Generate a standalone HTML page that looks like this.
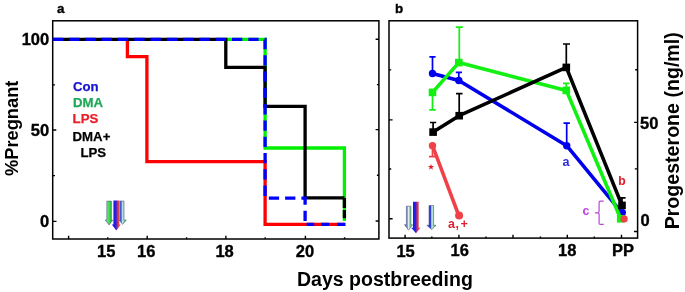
<!DOCTYPE html>
<html><head><meta charset="utf-8">
<style>
html,body{margin:0;padding:0;background:#fff;}
body{width:685px;height:292px;overflow:hidden;position:relative;}
svg{position:absolute;left:0;top:0;filter:blur(0.4px);}
text{font-family:"Liberation Sans",sans-serif;}
.b{font-weight:bold;}
.s{stroke:#000;stroke-width:0.35;}
</style></head>
<body>
<svg width="685" height="292" viewBox="0 0 685 292">
<defs>
  <linearGradient id="gBR" x1="0" x2="1" y1="0" y2="0">
    <stop offset="0" stop-color="#1818e0"/><stop offset="0.45" stop-color="#2020f0"/><stop offset="0.6" stop-color="#a03080"/><stop offset="0.75" stop-color="#e04050"/><stop offset="1" stop-color="#f06070"/>
  </linearGradient>
  <linearGradient id="gA" x1="0" x2="1" y1="0" y2="0">
    <stop offset="0" stop-color="#4060c0"/><stop offset="0.2" stop-color="#80d890"/><stop offset="0.5" stop-color="#40e050"/><stop offset="1" stop-color="#209040"/>
  </linearGradient>
  <linearGradient id="gC" x1="0" x2="1" y1="0" y2="0">
    <stop offset="0" stop-color="#1a2ae0"/><stop offset="0.42" stop-color="#3040e0"/><stop offset="0.55" stop-color="#d8f0f8"/><stop offset="0.7" stop-color="#80d8a0"/><stop offset="1" stop-color="#30a050"/>
  </linearGradient>
  <linearGradient id="gL" x1="0" x2="1" y1="0" y2="0">
    <stop offset="0" stop-color="#4050b8"/><stop offset="0.35" stop-color="#8090d8"/><stop offset="0.5" stop-color="#e0f0f0"/><stop offset="0.65" stop-color="#80d8a0"/><stop offset="1" stop-color="#40a060"/>
  </linearGradient>
<linearGradient id="gC2" x1="0" x2="1" y1="0" y2="0">
    <stop offset="0" stop-color="#2030c8"/><stop offset="0.3" stop-color="#5070e0"/><stop offset="0.5" stop-color="#c8f0f0"/><stop offset="0.7" stop-color="#60d888"/><stop offset="1" stop-color="#30a050"/>
  </linearGradient>
</defs>

<!-- ================= PANEL A ================= -->
<g fill="none" stroke="#000" stroke-width="1.5">
  <rect x="52.7" y="20.8" width="326.2" height="218.2"/>
</g>
<!-- ticks panel a -->
<g stroke="#000" stroke-width="1.4">
  <path d="M52.7 39.3h3.8M52.7 84.9h2.3M52.7 130h3.6M52.7 175.6h2.3M52.7 221.4h3.8"/>
  <path d="M378.9 39.2h-3.3M378.9 84.6h-2M378.9 129.6h-3.3M378.9 175.2h-2M378.9 221h-3.3"/>
  <path d="M68.6 239v-3.3M107.7 239v-1.8M147.2 239v-3.3M186.6 239v-1.8M225.9 239v-3.3M265.2 239v-1.8M305.4 239v-3.3M344.6 239v-1.8"/>
</g>
<!-- data panel a -->
<g fill="none" stroke-width="3.3" stroke-linejoin="miter" stroke-linecap="butt">
  <path stroke="#00f000" d="M225.8 39.4H265.1V148H344.4V221"/>
  <path stroke="#ff0000" d="M127.4 39.4V56.7H146.9V161.6H265.1V224.3H344.6"/>
  <path stroke="#000" d="M52.7 39.4H225.8V67.3H265.1V106.3H305.1V197.9H344.4"/>
  <path stroke="#000" stroke-dasharray="10.1 2 8.3 10" d="M344.4 197.9V221"/>
  <path stroke="#0000ff" stroke-dasharray="10.3 6" d="M52.7 39.4H265.1V198.2H305.1V224.3"/>
  <path stroke="#0000ff" stroke-dasharray="7.7 6.9 7.9 8.2 8.2 10" d="M306.6 224.3H345.5"/>
</g>
<!-- axis labels panel a -->
<g class="b s" font-size="16.5" text-anchor="end" fill="#000">
  <text x="49.2" y="44.8">100</text>
  <text x="49.2" y="135.5">50</text>
  <text x="49.2" y="226.7">0</text>
</g>
<g class="b s" font-size="16.5" text-anchor="middle" fill="#000">
  <text x="106.3" y="256.5">15</text>
  <text x="146.2" y="256.5">16</text>
  <text x="224.6" y="256.5">18</text>
  <text x="305" y="256.5">20</text>
</g>
<text class="b s" font-size="13.4" x="56.9" y="12.9">a</text>
<!-- legend -->
<g class="b" font-size="13.2" stroke-width="0.25">
  <text x="72.9" y="90.9" fill="#1515cc" stroke="#1515cc">Con</text>
  <text x="72.9" y="106.6" fill="#1fa858" stroke="#1fa858">DMA</text>
  <text x="72.6" y="122.9" fill="#e81e28" stroke="#e81e28">LPS</text>
  <text x="72.6" y="140.5" fill="#000" stroke="#000">DMA+</text>
  <text x="80.5" y="156.6" fill="#000" stroke="#000">LPS</text>
</g>
<!-- arrows panel a -->
<g stroke-width="0.6" stroke="#506080">
  <path d="M106.8 201.1H111.4V220H112.7L109.1 225L105.3 220H106.8Z" fill="url(#gA)"/>
  <path d="M119.8 201H124V220H126.3L122.6 224.4L119.1 220H119.8Z" fill="url(#gC2)"/>
  <path d="M113.4 200.6H119.4V224.5H120.8L116.3 230.4L111.8 224.5H113.4Z" fill="url(#gBR)" stroke="none"/>
</g>
<!-- y label -->
<text class="b" font-size="18.3" text-anchor="middle" transform="translate(18.1,128.3) rotate(-90)">%Pregnant</text>

<!-- ================= PANEL B ================= -->
<g fill="none" stroke="#000" stroke-width="1.5">
  <rect x="389" y="20.8" width="248.6" height="217.3"/>
</g>
<g stroke="#000" stroke-width="1.4">
  <path d="M389 69.9h2.2M389 119.9h3.6M389 169h2.2M389 218.8h3.6"/>
  <path d="M637.6 69.7h-2.4M637.6 122.4h-3.5M637.6 168.9h-2.8M637.6 231.5h-3.6"/>
  <path d="M405.1 238.1v-3.3M431.8 238.1v-1.6M458.9 238.1v-3.3M486 238.1v-1.6M513 238.1v-3.3M540.4 238.1v-1.6M567.3 238.1v-3.3M594.3 238.1v-1.6M621.5 238.1v-3.3"/>
</g>
<g class="b s" font-size="16.5" text-anchor="middle" fill="#000">
  <text x="405.6" y="256.6">15</text>
  <text x="459.7" y="256.3">16</text>
  <text x="567.2" y="256.3">18</text>
  <text x="623" y="256.3">PP</text>
</g>
<g class="b s" font-size="16.5" fill="#000">
  <text x="640" y="128.5">50</text>
  <text x="640.4" y="225.8">0</text>
</g>
<text class="b s" font-size="13.4" x="394.9" y="12.9">b</text>

<!-- data panel b -->
<g fill="none" stroke-width="3.6" stroke-linejoin="round">
  <!-- blue Con -->
  <path stroke="#0000ee" stroke-width="1.7" d="M432.5 73.5V56.8M429.4 56.8h6.2M458.8 80.5V72.3M455.8 72.3h6.2M566.7 145.7V123.1M563.5 123.1h6.4"/>
  <path stroke="#0000ee" d="M432.5 73.5L458.8 80.5L566.7 145.7L621.7 212.6"/>
  <g fill="#0000ee" stroke="none">
    <circle cx="432.5" cy="73.5" r="3.7"/><circle cx="458.8" cy="80.5" r="3.7"/><circle cx="566.7" cy="145.7" r="3.7"/><circle cx="622.5" cy="212.4" r="3.5"/>
  </g>
  <!-- green DMA -->
  <path stroke="#11f011" stroke-width="1.7" d="M432.5 92.4V109.9M429.3 109.9h6.4M459.3 62.6V27.1M455.8 27.1h7M566.3 90.4V83.3M563 83.3h6.6"/>
  <path stroke="#11f011" d="M432.5 92.4L458.8 62.6L566.3 90.4L620.7 218.8"/>
  <g fill="#11f011" stroke="none">
    <rect x="428.7" y="88.6" width="7.6" height="7.6"/><rect x="455.0" y="58.8" width="7.6" height="7.6"/><rect x="562.5" y="86.6" width="7.6" height="7.6"/><rect x="616.9" y="215.0" width="7.6" height="7.6"/>
  </g>
  <!-- black DMA+LPS -->
  <path stroke="#000" stroke-width="1.7" d="M433.1 132.1V122.5M430 122.5h6.2M459.2 115.7V93.7M456 93.7h6.6M566.3 67.4V44M563 44h7M622 205V197.8M619 197.8h6.6"/>
  <path stroke="#000" d="M433.1 132.1L459.2 115.7L566.3 67.4L622 205.4"/>
  <g fill="#000" stroke="none">
    <rect x="429.3" y="128.3" width="7.6" height="7.6"/><rect x="455.4" y="111.9" width="7.6" height="7.6"/><rect x="562.5" y="63.6" width="7.6" height="7.6"/><rect x="618.2" y="201.6" width="7.6" height="7.6"/>
  </g>
  <!-- red LPS -->
  <path stroke="#f04048" stroke-width="1.7" d="M432.5 145.7V156.6M429 156.6h6"/>
  <path stroke="#f04048" d="M432.5 145.7L458.8 215.7"/>
  <g fill="#f04048" stroke="none">
    <circle cx="432.5" cy="145.7" r="3.7"/><circle cx="459.1" cy="215.6" r="4"/><circle cx="624.1" cy="218.9" r="3.6"/>
  </g>
</g>
<!-- annotations -->
<path d="M431 163.9L431.8 166.1L434 166.1L432.2 167.5L432.9 169.7L431 168.3L429.1 169.7L429.8 167.5L428 166.1L430.2 166.1Z" fill="#e81828"/>
<text x="448.1" y="228" font-size="12.4" class="b" fill="#e02030">a<tspan dx="0.6">,</tspan></text>
<text x="460.6" y="227.8" font-size="12.8" class="b" fill="#e02030">+</text>
<text x="562.5" y="166.4" font-size="12.6" class="b" fill="#2a2ad8">a</text>
<text x="618.3" y="184.9" font-size="12.2" class="b" fill="#e01828">b</text>
<text x="582.4" y="215.2" font-size="12.4" class="b" fill="#c040e0">c</text>
<path d="M603.7 201.2H600.2Q599.1 201.2 599.1 202.3V211.6Q599.1 212.8 597.4 212.8H594.9M597.4 212.8Q599.1 212.8 599.1 214V223.2Q599.1 224.4 600.2 224.4H603.7" fill="none" stroke="#b848d8" stroke-width="1.2"/>
<!-- arrows panel b -->
<g stroke-width="0.6" stroke="#506080">
  <path d="M406.4 206.2H410.9V224.7H412.5L408.6 230.2L404.5 224.7H406.4Z" fill="url(#gL)"/>
  <path d="M429 205.5H433.6V225.3H436L431.6 229.6L426.8 225.3H429Z" fill="url(#gC)"/>
  <path d="M413 201.8H418.7V227.7H420.5L416 233.3L411.2 227.7H413Z" fill="url(#gBR)" stroke="none"/>
</g>
<text class="b" font-size="19.6" text-anchor="middle" transform="translate(679,130.8) rotate(-90)">Progesterone (ng/ml)</text>
<text class="b" font-size="19.55" x="297" y="286.2">Days postbreeding</text>
</svg>
</body></html>
